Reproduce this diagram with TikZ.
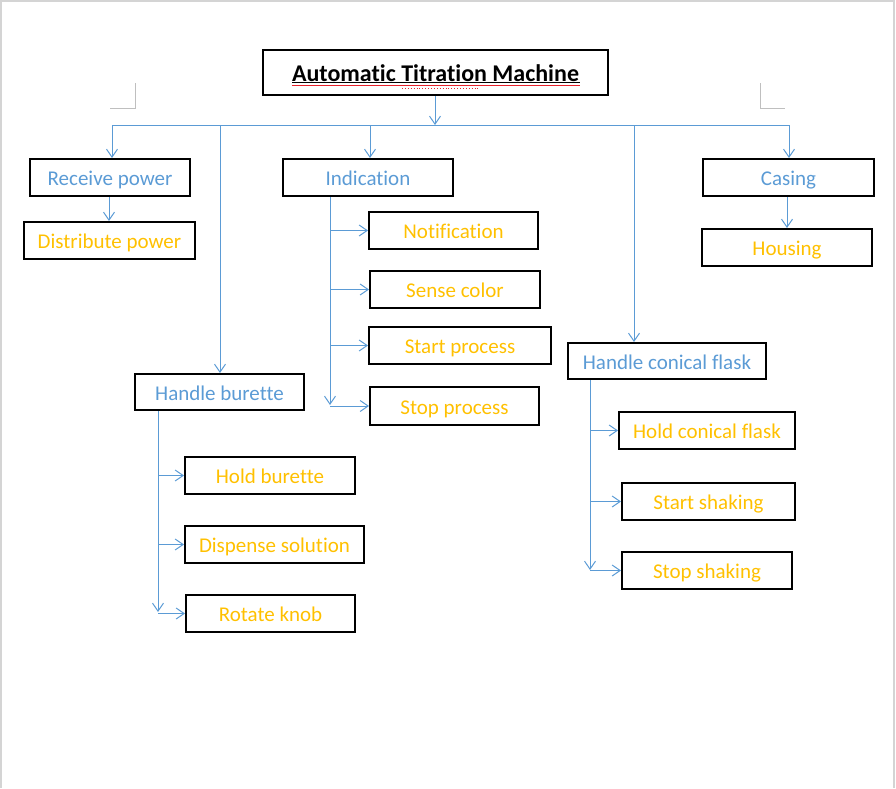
\documentclass[tikz,border=0pt]{standalone}
\usepackage{fontspec}
\setmainfont[Ligatures={NoCommon}]{Carlito}
\usetikzlibrary{arrows.meta}
\definecolor{lblue}{HTML}{5B9BD5}
\definecolor{gold}{HTML}{FFC000}
\definecolor{pagegray}{HTML}{D4D4D4}
\definecolor{markgray}{HTML}{BFBFBF}
\definecolor{spellred}{HTML}{E8202A}
\tikzset{
  bx/.style={draw=black, line width=2pt, rectangle, inner sep=0pt, text height=16pt, text depth=0pt, font=\fontsize{21}{25}\selectfont},
  lvl1/.style={bx, text=lblue},
  lvl2/.style={bx, text=gold},
  conn/.style={draw=lblue, line width=1pt},
  arr/.style={conn, -{Straight Barb[length=8pt,width=11pt]}},
}
\begin{document}
\begin{tikzpicture}[x=1pt,y=-1pt]
\useasboundingbox (0,0) rectangle (896,788);
% page border
\draw[pagegray, line width=2pt] (1,788) -- (1,1) -- (894,1) -- (894,788);
% corner marks
\draw[markgray, line width=1pt] (135,83) -- (135,108) -- (110,108);
\draw[markgray, line width=1pt] (760,83) -- (760,108) -- (785,108);

% title
\node[bx, minimum width=345pt, minimum height=45pt, text height=17pt, font=\fontsize{24}{29}\selectfont\bfseries] (title) at (435.5,72.5) {Automatic Titration Machine};
\draw[black, line width=1.2pt] (292,82.6) -- (580,82.6);
\draw[spellred, line width=1.2pt] (292,85.3) -- (580,85.3);
\draw[spellred, line width=0.9pt, dotted] (402,88.3) -- (478,88.3);

% level 1
\node[lvl1, minimum width=160pt, minimum height=37pt] (recv) at (110,177.5) {Receive power};
\node[lvl1, minimum width=170pt, minimum height=37pt] (ind) at (368,177.5) {Indication};
\node[lvl1, minimum width=171pt, minimum height=37pt] (cas) at (788.5,177.5) {Casing};
\node[lvl1, minimum width=169pt, minimum height=36pt] (hbur) at (219.5,392) {Handle burette};
\node[lvl1, minimum width=198pt, minimum height=36pt] (hfl) at (667,361) {Handle conical flask};

% level 2
\node[lvl2, minimum width=171pt, minimum height=37pt] (dist) at (109.5,240.5) {Distribute power};
\node[lvl2, minimum width=169pt, minimum height=37pt] (notif) at (453.5,230.5) {Notification};
\node[lvl2, minimum width=170pt, minimum height=37pt] (sense) at (455,289.5) {Sense color};
\node[lvl2, minimum width=182pt, minimum height=37pt] (startp) at (460,345.5) {Start process};
\node[lvl2, minimum width=169pt, minimum height=38pt] (stopp) at (454.5,406) {Stop process};
\node[lvl2, minimum width=170pt, minimum height=37pt] (hous) at (787,247.5) {Housing};
\node[lvl2, minimum width=170pt, minimum height=37pt] (holdb) at (270,475.5) {Hold burette};
\node[lvl2, minimum width=179pt, minimum height=37pt] (disp) at (274.5,544.5) {Dispense solution};
\node[lvl2, minimum width=169pt, minimum height=37pt] (rot) at (270.5,613.5) {Rotate knob};
\node[lvl2, minimum width=176pt, minimum height=37pt] (holdf) at (707,430.5) {Hold conical flask};
\node[lvl2, minimum width=173pt, minimum height=37pt] (starts) at (708.5,501.5) {Start shaking};
\node[lvl2, minimum width=170pt, minimum height=37pt] (stops) at (707,570.5) {Stop shaking};

% bus
\coordinate (bt) at (435,125);
\coordinate (b1) at (112,125);
\coordinate (b2) at (220,125);
\coordinate (b3) at (370,125);
\coordinate (b4) at (634,125);
\coordinate (b5) at (789,125);
\draw[arr] (title.south -| bt) -- (bt);
\draw[conn] (b1) -- (b5);
\draw[arr] (b1) -- (b1 |- recv.north);
\draw[arr] (b2) -- (b2 |- hbur.north);
\draw[arr] (b3) -- (b3 |- ind.north);
\draw[arr] (b4) -- (b4 |- hfl.north);
\draw[arr] (b5) -- (b5 |- cas.north);

% simple descents
\coordinate (rd) at (109,0);
\draw[arr] (rd |- recv.south) -- (rd |- dist.north);
\coordinate (cd) at (787,0);
\draw[arr] (cd |- cas.south) -- (cd |- hous.north);

% indication trunk
\coordinate (it) at (330,405);
\draw[arr] (it |- ind.south) -- (it);
\draw[arr] (it |- notif.west) -- (notif.west);
\draw[arr] (it |- sense.west) -- (sense.west);
\draw[arr] (it |- startp.west) -- (startp.west);
\draw[arr] (it |- stopp.west) -- (stopp.west);

% burette trunk
\coordinate (bt2) at (158,612);
\draw[arr] (bt2 |- hbur.south) -- (bt2);
\draw[arr] (bt2 |- holdb.west) -- (holdb.west);
\draw[arr] (bt2 |- disp.west) -- (disp.west);
\draw[arr] (bt2 |- rot.west) -- (rot.west);

% flask trunk
\coordinate (ft) at (590,570);
\draw[arr] (ft |- hfl.south) -- (ft);
\draw[arr] (ft |- holdf.west) -- (holdf.west);
\draw[arr] (ft |- starts.west) -- (starts.west);
\draw[arr] (ft |- stops.west) -- (stops.west);
\end{tikzpicture}
\end{document}
